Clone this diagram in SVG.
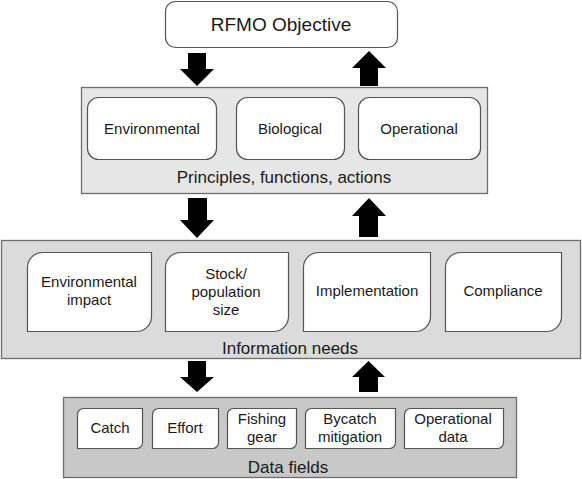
<svg xmlns="http://www.w3.org/2000/svg" width="582" height="479" viewBox="0 0 582 479">
<style>
text{font-family:"Liberation Sans",Arial,sans-serif;fill:#1a1a1a;text-anchor:middle}
.panel{stroke:#6e6e6e;stroke-width:1.3}
.box{fill:#fff;stroke:#555;stroke-width:1.2}
.t19{font-size:19px}.t17{font-size:17px}.t15{font-size:15px}
.arr{fill:#000}
</style>
<rect width="582" height="479" fill="#fff"/>
<g id="rfmo">
<rect class="box" x="165.5" y="1.5" width="232" height="46" rx="10"/>
<text class="t19" x="281" y="31">RFMO Objective</text>
</g>
<g id="principles">
<rect class="panel" x="81.5" y="87.5" width="406" height="106" fill="#e6e6e6"/>
<text class="t17" x="284" y="183">Principles, functions, actions</text>
</g>
<g id="environmental">
<rect class="box" x="87.5" y="97.5" width="129" height="62" rx="11"/>
<text class="t15" x="152" y="134">Environmental</text>
</g>
<g id="biological">
<rect class="box" x="236.5" y="97.5" width="108" height="62" rx="11"/>
<text class="t15" x="290" y="134">Biological</text>
</g>
<g id="operational">
<rect class="box" x="358.5" y="97.5" width="122" height="62" rx="11"/>
<text class="t15" x="419" y="134">Operational</text>
</g>
<g id="information">
<rect class="panel" x="1.5" y="240.5" width="579" height="118" fill="#dbdbdb"/>
<text class="t17" x="290" y="354">Information needs</text>
</g>
<g id="envimpact">
<path class="box" d="M27.5,267.5 A15,15 0 0 1 42.5,252.5 H151.5 V316.5 A15,15 0 0 1 136.5,331.5 H27.5 Z"/>
<text class="t15" x="89" y="287">Environmental</text>
<text class="t15" x="89" y="305">impact</text>
</g>
<g id="stock">
<path class="box" d="M165.5,267.5 A15,15 0 0 1 180.5,252.5 H288.5 V316.5 A15,15 0 0 1 273.5,331.5 H165.5 Z"/>
<text class="t15" x="226" y="279">Stock/</text>
<text class="t15" x="226" y="297">population</text>
<text class="t15" x="226" y="315">size</text>
</g>
<g id="implementation">
<path class="box" d="M303.5,267.5 A15,15 0 0 1 318.5,252.5 H430.5 V316.5 A15,15 0 0 1 415.5,331.5 H303.5 Z"/>
<text class="t15" x="367" y="296">Implementation</text>
</g>
<g id="compliance">
<path class="box" d="M445.5,267.5 A15,15 0 0 1 460.5,252.5 H561.5 V316.5 A15,15 0 0 1 546.5,331.5 H445.5 Z"/>
<text class="t15" x="503" y="296">Compliance</text>
</g>
<g id="datafields">
<rect class="panel" x="63.5" y="397.5" width="453" height="80" fill="#c8c8c8"/>
<text class="t17" x="288" y="473">Data fields</text>
</g>
<g id="catch">
<path class="box" d="M77.5,414.5 A6,6 0 0 1 83.5,408.5 H142.5 V442.5 A6,6 0 0 1 136.5,448.5 H77.5 Z"/>
<text class="t15" x="110" y="433">Catch</text>
</g>
<g id="effort">
<path class="box" d="M152.5,414.5 A6,6 0 0 1 158.5,408.5 H218.5 V442.5 A6,6 0 0 1 212.5,448.5 H152.5 Z"/>
<text class="t15" x="185" y="433">Effort</text>
</g>
<g id="fishinggear">
<path class="box" d="M227.5,414.5 A6,6 0 0 1 233.5,408.5 H296.5 V442.5 A6,6 0 0 1 290.5,448.5 H227.5 Z"/>
<text class="t15" x="262" y="424">Fishing</text>
<text class="t15" x="262" y="442">gear</text>
</g>
<g id="bycatch">
<path class="box" d="M305.5,414.5 A6,6 0 0 1 311.5,408.5 H395.5 V442.5 A6,6 0 0 1 389.5,448.5 H305.5 Z"/>
<text class="t15" x="350" y="424">Bycatch</text>
<text class="t15" x="350" y="442">mitigation</text>
</g>
<g id="operationaldata">
<path class="box" d="M404.5,414.5 A6,6 0 0 1 410.5,408.5 H503.5 V442.5 A6,6 0 0 1 497.5,448.5 H404.5 Z"/>
<text class="t15" x="453" y="424">Operational</text>
<text class="t15" x="453" y="442">data</text>
</g>
<g id="connectors">
<polygon class="arr" points="188,53 206,53 206,69 214,69 197,86 180,69 188,69"/>
<polygon class="arr" points="369,51 386,68 378,68 378,86 360,86 360,68 352,68"/>
<polygon class="arr" points="188,198 207,198 207,220 214,220 197,238 180,220 188,220"/>
<polygon class="arr" points="369,198 386,216 378,216 378,237 359,237 359,216 352,216"/>
<polygon class="arr" points="188,361 206,361 206,377 214,377 197,392 180,377 188,377"/>
<polygon class="arr" points="368.5,361 385,377 378,377 378,392 359,392 359,377 352,377"/>
</g>
</svg>
